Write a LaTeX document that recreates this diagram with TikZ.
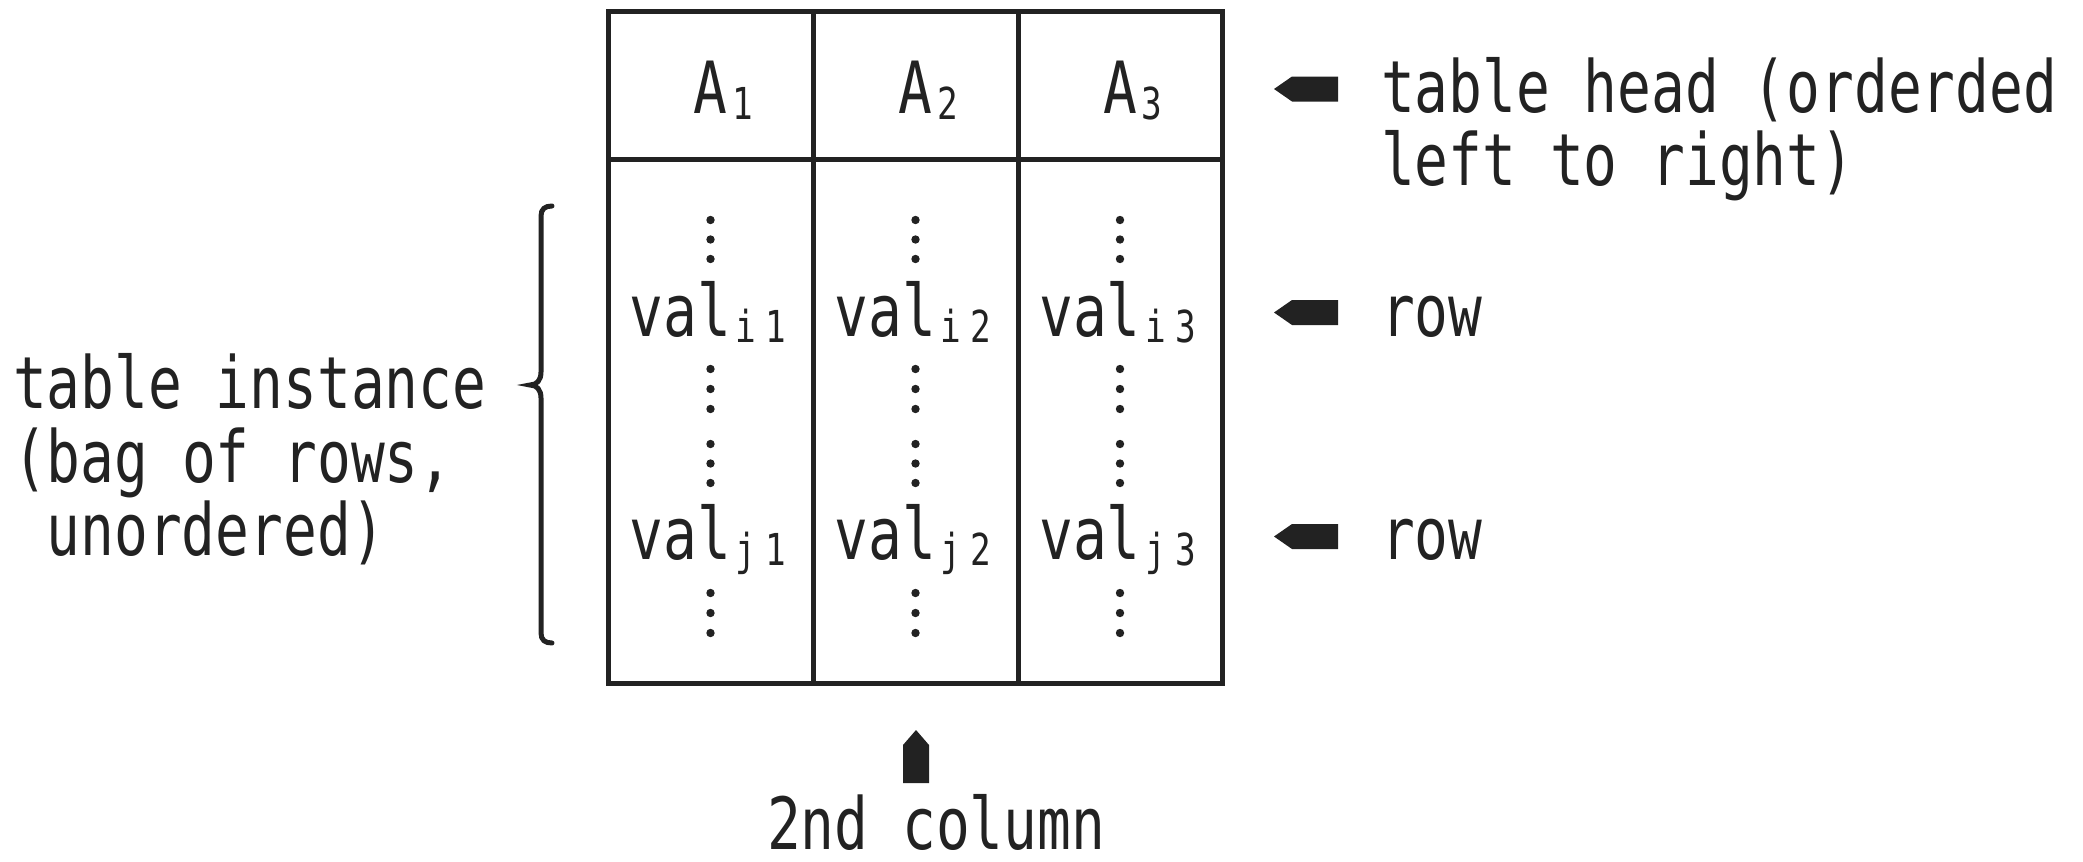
\documentclass[tikz,border=0pt]{standalone}
\usepackage{fontspec}
\newfontfamily\mono[FakeStretch=0.78]{DejaVu Sans Mono}
\definecolor{ink}{HTML}{222222}
\newcommand{\sbx}[1]{\makebox[15pt]{\raisebox{-3pt}{\fontsize{22pt}{22pt}\selectfont #1}}}
\begin{document}
\begin{tikzpicture}[x=0.5pt,y=-0.5pt,
  txt/.style={font=\mono\fontsize{36pt}{37pt}\selectfont, text=ink, inner sep=0pt, outer sep=0pt},
  grid/.style={draw=ink, line width=2.5pt},
  lpointer/.pic={\fill[ink] (-32,0) -- (-14,-12.5) -- (32,-12.5) -- (32,12.5) -- (-14,12.5) -- cycle;},
  upointer/.pic={\fill[ink] (0,-26.5) -- (13,-11.5) -- (13,26.5) -- (-13,26.5) -- (-13,-11.5) -- cycle;}]
\useasboundingbox (0,0) rectangle (2083,862);
% table grid
\draw[grid] (608,11) rectangle (1222,683);
\draw[grid] (608,159) -- (1222,159);
\draw[grid] (813,11) -- (813,683);
\draw[grid] (1018,11) -- (1018,683);
% header
\node[txt, anchor=base west] (h1) at (693.6,113) {A\sbx{1}};
\node[txt, anchor=base west] (h2) at (898.6,113) {A\sbx{2}};
\node[txt, anchor=base west] (h3) at (1103.1,113) {A\sbx{3}};
% values
\node[txt, anchor=base] (vi1) at (710.5,336) {val\sbx{i}\sbx{1}};
\node[txt, anchor=base] (vi2) at (915.5,336) {val\sbx{i}\sbx{2}};
\node[txt, anchor=base] (vi3) at (1120,336) {val\sbx{i}\sbx{3}};
\node[txt, anchor=base] (vj1) at (710.5,559) {val\sbx{j}\sbx{1}};
\node[txt, anchor=base] (vj2) at (915.5,559) {val\sbx{j}\sbx{2}};
\node[txt, anchor=base] (vj3) at (1120,559) {val\sbx{j}\sbx{3}};
% dots
\foreach \cx in {710.5,915.5,1120}
  \foreach \cy in {220,239.5,259, 369,389,409, 444,463.5,483, 593,613,633}
    \fill[ink] (\cx,\cy) circle[radius=2.1pt];
% brace
\draw[ink, line width=2.5pt, line cap=round] (552,206) .. controls (545,206) and (541,209) .. (541,216) -- (541,372) .. controls (541,380) and (537,385) .. (530,385) .. controls (537,385) and (541,390) .. (541,398) -- (541,633) .. controls (541,640) and (545,643) .. (552,643);
% left label
\node[txt, anchor=base west] (l1) at (13,408) {table instance};
\node[txt, anchor=base west] (l2) at (13,482) {(bag of rows,};
\node[txt, anchor=base west] (l3) at (46.75,555) {unordered)};
% right labels
\pic at (1306,89) {lpointer};
\node[txt, anchor=base west] (r1) at (1381,112) {table head (orderded};
\node[txt, anchor=base west] (r2) at (1381,185) {left to right)};
\pic at (1306,312.5) {lpointer};
\node[txt, anchor=base west] (row1) at (1381,336) {row};
\pic at (1306,536.5) {lpointer};
\node[txt, anchor=base west] (row2) at (1381,559) {row};
% bottom
\pic at (916,756.5) {upointer};
\node[txt, anchor=base west] (col) at (767,849) {2nd column};
\end{tikzpicture}
\end{document}
